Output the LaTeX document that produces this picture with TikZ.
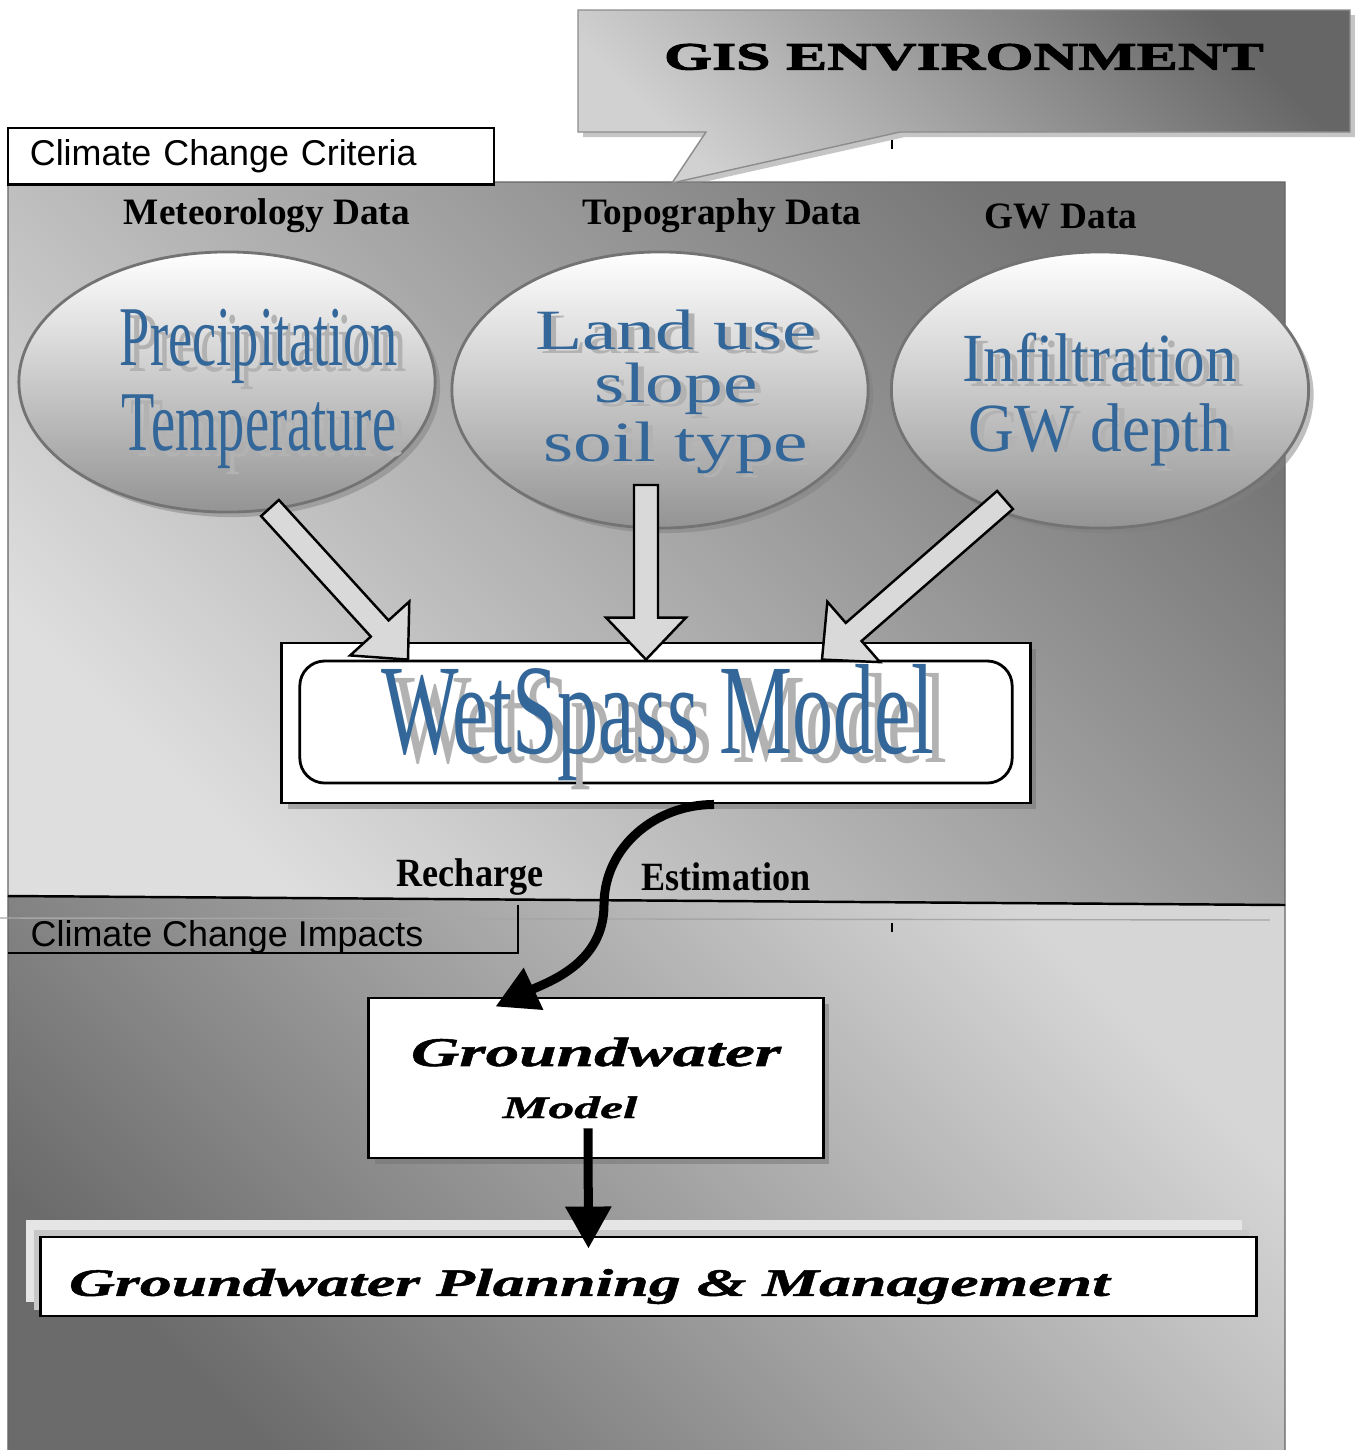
\documentclass[tikz,border=0pt]{standalone}
\usepackage{fontspec}
\setmainfont{Liberation Serif}
\setsansfont{Liberation Sans}
\newfontfamily\thinserif[FakeStretch=0.64]{Liberation Serif}
\newfontfamily\slimserif[FakeStretch=0.92]{Liberation Serif}
\newfontfamily\capserif[FakeStretch=0.9]{Liberation Serif}
\newfontfamily\wideserif[FakeStretch=1.36]{Liberation Serif}
\newfontfamily\heavyserif[FakeStretch=1.6,FakeBold=2.5]{Liberation Serif}
\newfontfamily\gwserif[FakeStretch=1.65,FakeBold=1.3]{Liberation Serif}
\usetikzlibrary{arrows.meta,calc,shapes.geometric,shadows,positioning}

\definecolor{wsblue}{RGB}{51,102,153}
\definecolor{wsshade}{gray}{0.7}

% blue lettering with a grey cast shadow
\newcommand{\shadowed}[1]{\rlap{\kern.1em\raisebox{-.07em}{\color{wsshade}#1}}{\color{wsblue}#1}}

% hollow block arrow from #1 to #2
\newcommand{\blockarrow}[2]{%
  \coordinate (hb) at ($(#2)!0.42cm!(#1)$);
  \draw[blockarr] ($(#1)!0.12cm!90:(#2)$) -- ($(hb)!0.12cm!-90:(#1)$)
    -- ($(hb)!0.4cm!-90:(#1)$) -- (#2) -- ($(hb)!0.4cm!90:(#1)$)
    -- ($(hb)!0.12cm!90:(#1)$) -- ($(#1)!0.12cm!-90:(#2)$) -- cycle;}

\tikzset{
  datalabel/.style={font=\bfseries\fontsize{10.6}{12}\selectfont},
  tagbox/.style={font=\sffamily\fontsize{10.2}{12}\selectfont},
  databubble/.style={ellipse, draw=black!55, line width=0.8pt,
    top color=white, bottom color=black!42, inner sep=0pt,
    drop shadow={shadow xshift=0.05cm, shadow yshift=-0.05cm, fill=black!50}},
  bubbletext/.style={align=center, inner sep=0pt},
  whitebox/.style={draw, fill=white, line width=0.8pt,
    drop shadow={shadow xshift=0.06cm, shadow yshift=-0.06cm, fill=black!55}},
  blockarr/.style={draw, line width=0.7pt, fill=black!15, line join=miter},
  thickarrow/.style={line width=0.09cm, -{Triangle[length=0.42cm,width=0.44cm]}},
  lowlabel/.style={font=\capserif\bfseries\fontsize{11.4}{12}\selectfont},
}

\begin{document}
\begin{tikzpicture}[x=0.01cm,y=-0.01cm]
\useasboundingbox (0,0) rectangle (1355,1450);

% === Background panels ===
\shadedraw[draw=black!60, top color=black!54, middle color=black!20,
  bottom color=black!13, shading angle=-45]
  (8,182) -- (1285,182) -- (1285,905) -- (8,896) -- cycle;
\shadedraw[draw=black!60, top color=black!16, middle color=black!27,
  bottom color=black!58, shading angle=-45]
  (8,896) -- (1285,905) -- (1285,1460) -- (8,1460) -- cycle;
\draw[line width=0.7pt] (8,896) -- (1285,905);
\draw[black!35] (0,918) -- (1270,920);
\draw (892,140) -- (892,149);
\draw (892,923) -- (892,932);

% GIS callout
\shadedraw[draw=black!45, top color=black!60, middle color=black!25,
  bottom color=black!18, shading angle=-45,
  drop shadow={shadow xshift=0.05cm, shadow yshift=-0.05cm, fill=black!45}]
  (578,10) -- (1350,10) -- (1350,132) -- (900,132) -- (672,183)
  -- (706,132) -- (578,132) -- cycle;
\node[font=\heavyserif\bfseries\fontsize{11}{12}\selectfont] (gis) at (964,57) {GIS ENVIRONMENT};

% Section tags
\node[tagbox, draw, fill=white, line width=0.6pt, minimum width=4.86cm,
  minimum height=0.52cm, text width=4.42cm, inner xsep=0.22cm, align=left]
  (criteria) at (251,156) {Climate Change Criteria};
\node[tagbox, anchor=west, inner sep=0pt] (impacts) at (30,937) {Climate Change Impacts};
\draw[line width=0.6pt] (518,905) -- (518,953) -- (8,953);

% === Input data ===
\node[datalabel] (metlbl) at (267,216) {Meteorology Data};
\node[datalabel] (topolbl) at (722,216) {Topography Data};
\node[datalabel] (gwlbl) at (1061,216) {GW Data};

\node[databubble, minimum width=4.16cm, minimum height=2.6cm] (met) at (227,382) {};
\node[databubble, minimum width=4.16cm, minimum height=2.76cm] (topo) at (660,390) {};
\node[databubble, minimum width=4.17cm, minimum height=2.76cm] (gwd) at (1100,390) {};

\node[bubbletext, font=\thinserif\fontsize{24.2}{24.2}\selectfont]
  (mettxt) at ($(met)+(32,10)$) {\shadowed{Precipitation}\\\shadowed{Temperature}};
\node[bubbletext, font=\wideserif\fontsize{16.2}{15.2}\selectfont]
  (topotxt) at ($(topo)+(16,4)$) {\shadowed{Land use}\\\shadowed{slope}\\\shadowed{soil type}};
\node[bubbletext, font=\slimserif\fontsize{19.6}{19.9}\selectfont]
  (gwdtxt) at ($(gwd)+(0,12)$) {\shadowed{Infiltration}\\\shadowed{GW depth}};

% === WetSpass ===
\node[whitebox, minimum width=7.48cm, minimum height=1.6cm] (wsframe) at (656,723) {};
\node[draw, line width=0.8pt, rounded corners=0.25cm, minimum width=7.12cm,
  minimum height=1.22cm] (ws) at (656,722) {};
\node[inner sep=0pt, font=\thinserif\fontsize{36.5}{37}\selectfont]
  (wstxt) at ($(ws)+(2,5)$) {\shadowed{WetSpass Model}};

\coordinate (met-out) at (270,508);
\coordinate (topo-out) at (646,485);
\coordinate (gwd-out) at (1005,500);
\coordinate (ws-in1) at ($(ws.north)+(-248,0)$);
\coordinate (ws-in2) at ($(ws.north)+(-10,0)$);
\coordinate (ws-in3) at ($(ws.north)+(166,0)$);
\blockarrow{met-out}{ws-in1}
\blockarrow{topo-out}{ws-in2}
\blockarrow{gwd-out}{ws-in3}

% === Groundwater side ===
\node[lowlabel] (rchg) at (470,877) {Recharge};
\node[lowlabel] (est) at (726,877) {Estimation};

\node[whitebox, minimum width=4.54cm, minimum height=1.6cm, align=center,
  font=\gwserif\bfseries\itshape\fontsize{11.6}{14.8}\selectfont] (gwm) at (596,1078)
  {Groundwater\\{\fontsize{8.9}{14.8}\selectfont Model}\hspace*{0.52cm}};

\coordinate (ws-out) at ($(wsframe.south)+(58,0)$);
\coordinate (gwm-in) at ($(gwm.north west)+(128,10)$);
\draw[thickarrow] (ws-out) to[out=180,in=90] (604,905) to[out=-90,in=25] (gwm-in);

\fill[black!10] (26,1220) rectangle (1242,1302);
\fill[black!22] (34,1230) rectangle (1249,1310);
\node[draw, fill=white, line width=0.8pt, minimum width=12.15cm,
  minimum height=0.79cm] (plan) at (648.5,1276.5) {};
\node[anchor=west, inner sep=0pt,
  font=\gwserif\bfseries\itshape\fontsize{11}{12}\selectfont]
  (plantxt) at ($(plan.west)+(29,10)$) {Groundwater Planning \& Management};

\coordinate (gwm-out) at ($(gwm.south)+(-8,-31)$);
\coordinate (plan-in) at ($(plan.north)+(-60,13)$);
\draw[thickarrow] (gwm-out) -- (plan-in);
\end{tikzpicture}
\end{document}
